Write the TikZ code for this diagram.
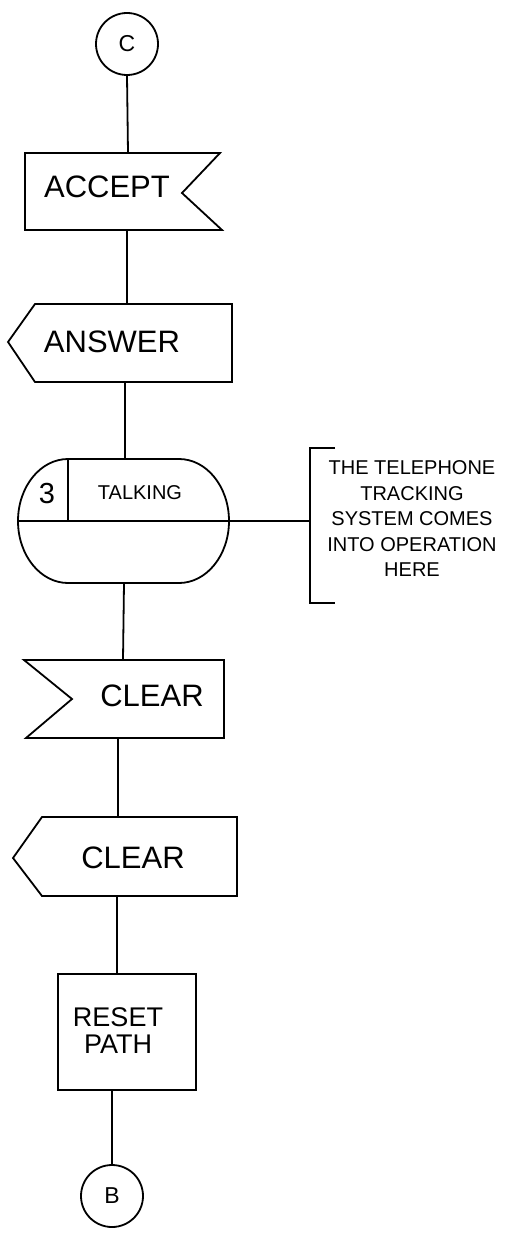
\documentclass[tikz,border=0pt]{standalone}
\usepackage{fontspec}
\setmainfont{Liberation Sans}
\begin{document}
\begin{tikzpicture}[x=1pt,y=-1pt,
  line width=1.8pt, line join=miter,
  conn/.style={line width=1.8pt},
  shapeline/.style={draw=black,line width=1.8pt},
  bigtxt/.style={inner sep=0pt,font=\fontsize{31}{36}\selectfont},
  midtxt/.style={inner sep=0pt,font=\fontsize{27}{27}\selectfont,align=center},
  smalltxt/.style={inner sep=0pt,font=\fontsize{20}{25.5}\selectfont,align=center},
  connector/.style={circle,draw,line width=1.8pt,minimum size=62pt,inner sep=0pt,font=\fontsize{23}{23}\selectfont}]
\useasboundingbox (0,0) rectangle (515,1241);

% entry connector
\node[connector] (c) at (127,44) {C};

% input signal ACCEPT
\path[shapeline] (25,153) -- (220,153) -- (182,193) -- (222,230) -- (25,230) -- cycle;
\node[bigtxt] (accept) at (107,187) {ACCEPT};
\coordinate (acc-top) at (128,153);
\coordinate (acc-bot) at (127,230);

% output signal ANSWER
\path[shapeline] (8,342) -- (35,304) -- (232,304) -- (232,382) -- (35,382) -- cycle;
\node[bigtxt] (answer) at (112,342) {ANSWER};
\coordinate (ans-top) at (127,304);
\coordinate (ans-bot) at (125,382);

% state 3 TALKING (y axis points down, so arc angles are mirrored)
\path[shapeline] (68,459) -- (179,459)
  arc[start angle=-90,end angle=90,x radius=50,y radius=62]
  -- (68,583)
  arc[start angle=90,end angle=270,x radius=50,y radius=62] -- cycle;
\draw (18,521) -- (229,521);
\draw (68,459) -- (68,521);
\node[inner sep=0pt,font=\fontsize{29}{29}\selectfont] (num) at (47,494) {3};
\node[smalltxt] (talking) at (140,493) {TALKING};
\coordinate (st-top) at (125,459);
\coordinate (st-bot) at (124,583);
\coordinate (st-right) at (229,521);

% comment bracket
\draw (335,448) -- (310,448) -- (310,603) -- (335,603);
\coordinate (br-mid) at (310,521);
\node[smalltxt] (note) at (412,519) {THE TELEPHONE\\TRACKING\\SYSTEM COMES\\INTO OPERATION\\HERE};

% input signal CLEAR
\path[shapeline] (24,660) -- (224,660) -- (224,738) -- (26,738) -- (72,699) -- cycle;
\node[bigtxt] (clearin) at (152,696) {CLEAR};
\coordinate (ci-top) at (123,660);
\coordinate (ci-bot) at (118,738);

% output signal CLEAR
\path[shapeline] (13,858) -- (42,817) -- (237,817) -- (237,896) -- (42,896) -- cycle;
\node[bigtxt] (clearout) at (133,858) {CLEAR};
\coordinate (co-top) at (118,817);
\coordinate (co-bot) at (117,896);

% task RESET PATH
\path[shapeline] (58,974) rectangle (196,1090);
\node[midtxt] (reset) at (118,1031) {RESET\\PATH};
\coordinate (rp-top) at (117,974);
\coordinate (rp-bot) at (112,1090);

% exit connector
\node[connector] (b) at (112,1196) {B};

% flow lines
\draw[conn] (c.south) -- (acc-top);
\draw[conn] (acc-bot) -- (ans-top);
\draw[conn] (ans-bot) -- (st-top);
\draw[conn] (st-right) -- (br-mid);
\draw[conn] (st-bot) -- (ci-top);
\draw[conn] (ci-bot) -- (co-top);
\draw[conn] (co-bot) -- (rp-top);
\draw[conn] (rp-bot) -- (b.north);
\end{tikzpicture}
\end{document}
